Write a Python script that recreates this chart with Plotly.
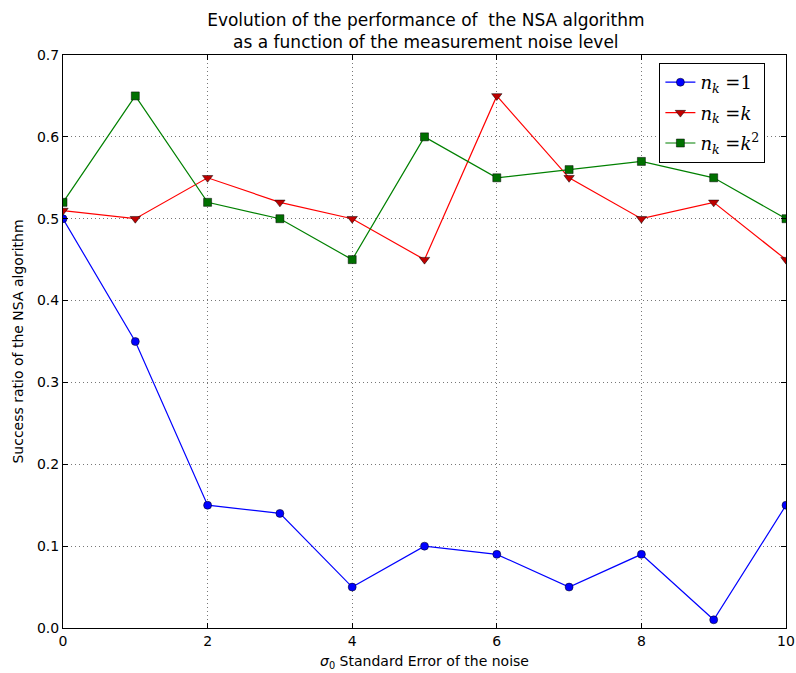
import plotly.graph_objects as go

noise = [0, 1, 2, 3, 4, 5, 6, 7, 8, 9, 10]
nk_one = [0.50, 0.35, 0.15, 0.14, 0.05, 0.10, 0.09, 0.05, 0.09, 0.01, 0.15]
nk_k = [0.51, 0.50, 0.55, 0.52, 0.50, 0.45, 0.65, 0.55, 0.50, 0.52, 0.45]
nk_k2 = [0.52, 0.65, 0.52, 0.50, 0.45, 0.60, 0.55, 0.56, 0.57, 0.55, 0.50]

labels = ["<i>n</i><sub><i>k</i></sub> =1",
          "<i>n</i><sub><i>k</i></sub> =<i>k</i>",
          "<i>n</i><sub><i>k</i></sub> =<i>k</i><sup>2</sup>"]

fig = go.Figure()
fig.add_trace(go.Scatter(x=noise, y=nk_one, mode="lines+markers", name=labels[0],
                         legendgroup="a",
                         line=dict(color="#0000ff", width=1.2),
                         marker=dict(symbol="circle", size=8, color="#0000ff",
                                     line=dict(color="black", width=0.5))))
fig.add_trace(go.Scatter(x=noise, y=nk_k, mode="lines+markers", name=labels[1],
                         legendgroup="b",
                         line=dict(color="#ff0000", width=1.2),
                         marker=dict(symbol="triangle-down", size=9, color="#bf0000",
                                     line=dict(color="black", width=0.5))))
fig.add_trace(go.Scatter(x=noise, y=nk_k2, mode="lines+markers", name=labels[2],
                         legendgroup="c",
                         line=dict(color="#008000", width=1.2),
                         marker=dict(symbol="square", size=8, color="#007000",
                                     line=dict(color="black", width=0.5))))

axis_common = dict(showline=True, linecolor="black", linewidth=1, mirror="ticks",
                   ticks="inside", ticklen=5, tickcolor="black",
                   showgrid=True, gridcolor="#777777", griddash="1px,3px", gridwidth=1,
                   zeroline=False, automargin=False,
                   tickfont=dict(size=14, color="black"))

fig.update_xaxes(range=[0, 10], dtick=2, tick0=0,
                 title=dict(text="<i>σ</i><sub>0</sub> Standard Error of the noise",
                            font=dict(size=14, color="black"), standoff=8),
                 **axis_common)
fig.update_yaxes(range=[0, 0.7], dtick=0.1, tick0=0, tickformat=".1f",
                 title=dict(text="Success ratio of the NSA algorithm",
                            font=dict(size=14, color="black"), standoff=10),
                 **axis_common)

fig.update_layout(
    width=796, height=673,
    margin=dict(l=63, r=10, t=55, b=45, autoexpand=False),
    paper_bgcolor="white", plot_bgcolor="white",
    font=dict(family="DejaVu Sans", color="black"),
    title=dict(text="Evolution of the performance of  the NSA algorithm<br>as a function of the measurement noise level",
               x=0.535, xanchor="center", yref="container", y=0.962, yanchor="top",
               font=dict(size=17, color="black")),
    legend=dict(x=0.9715, xanchor="right", y=0.986, yanchor="top",
                bordercolor="black", borderwidth=1, bgcolor="white",
                font=dict(size=18, family="DejaVu Serif", color="black"),
                itemwidth=30, tracegroupgap=4),
    showlegend=True,
)

fig.write_html("out.html", config={"displayModeBar": False},
               post_script="document.body.style.margin='0px';")
